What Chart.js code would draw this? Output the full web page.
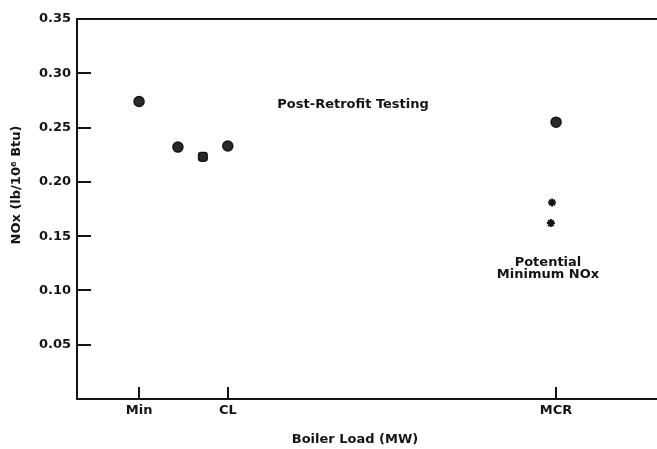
<!DOCTYPE html>
<html>
<head>
<meta charset="utf-8">
<script src="https://cdn.jsdelivr.net/npm/chart.js@4.4.1/dist/chart.umd.min.js"></script>
<style>
  html, body { margin: 0; padding: 0; background: #fff; }
  #wrap { width: 657px; height: 449px; position: relative; }
</style>
</head>
<body>
<div id="wrap"><canvas id="chart"></canvas></div>
<script>
// x is boiler load on an unlabelled relative scale (0-100)
const xTickLabels = ['Min', 'CL', 'MCR'];
const xTickValues = [10.7, 26.0, 82.6];
const yTickValues = [0.05, 0.10, 0.15, 0.20, 0.25, 0.30];

// post-retrofit test points
const postRetrofitX = [10.7, 17.4, 21.7, 26.0, 82.6];
const postRetrofitY = [0.274, 0.232, 0.223, 0.233, 0.255];
const postRetrofitStyles = ['circle', 'circle', 'rectRounded', 'circle', 'circle'];

// potential minimum NOx points
const potentialX = [81.9, 81.7];
const potentialY = [0.181, 0.162];

// annotation texts with their data anchors
const notes = [
  { lines: ['Post-Retrofit Testing'], x: 47.6, y: 0.271 },
  { lines: ['Potential', 'Minimum NOx'], x: 81.2, y: 0.126 }
];

const xTitle = 'Boiler Load (MW)';
const yTitle = 'NOx (lb/10\u2076 Btu)';

const ink = '#141414';
const family = '"DejaVu Sans", Verdana, sans-serif';

// tick marks drawn inward, axis titles (off-centre like the original) and notes
const innerTicks = {
  id: 'innerTicks',
  afterDraw(chart) {
    const { ctx, chartArea, scales } = chart;
    ctx.save();
    ctx.strokeStyle = ink;
    ctx.lineWidth = 2;
    xTickValues.forEach(v => {
      const px = Math.round(scales.x.getPixelForValue(v));
      ctx.beginPath();
      ctx.moveTo(px, chartArea.bottom);
      ctx.lineTo(px, chartArea.bottom - 12);
      ctx.stroke();
    });
    yTickValues.forEach(v => {
      const py = Math.round(scales.y.getPixelForValue(v));
      ctx.beginPath();
      ctx.moveTo(chartArea.left, py);
      ctx.lineTo(chartArea.left + 14, py);
      ctx.stroke();
    });
    ctx.fillStyle = ink;
    ctx.font = 'bold 13px ' + family;
    ctx.textAlign = 'center';
    ctx.textBaseline = 'middle';
    notes.forEach(n => {
      const px = scales.x.getPixelForValue(n.x);
      const py = scales.y.getPixelForValue(n.y);
      n.lines.forEach((line, i) => ctx.fillText(line, px, py + i * 12));
    });
    ctx.fillText(xTitle, chartArea.left + 278, chartArea.bottom + 41);
    ctx.translate(17, chartArea.top + 166);
    ctx.rotate(-Math.PI / 2);
    ctx.fillText(yTitle, 0, 0);
    ctx.restore();
  }
};

new Chart(document.getElementById('chart'), {
  type: 'scatter',
  data: {
    datasets: [
      {
        label: 'Post-Retrofit Testing',
        data: postRetrofitX.map((x, i) => ({ x, y: postRetrofitY[i] })),
        pointStyle: postRetrofitStyles,
        pointRadius: 5,
        backgroundColor: '#2a2a2a',
        borderColor: ink,
        borderWidth: 1.5
      },
      {
        label: 'Potential Minimum NOx',
        data: potentialX.map((x, i) => ({ x, y: potentialY[i] })),
        pointStyle: 'star',
        pointRadius: 4,
        borderColor: ink,
        borderWidth: 2
      }
    ]
  },
  options: {
    responsive: true,
    maintainAspectRatio: false,
    animation: false,
    layout: { autoPadding: false, padding: { top: 19, right: 0, left: 0, bottom: 0 } },
    plugins: {
      legend: { display: false },
      tooltip: { enabled: false }
    },
    scales: {
      x: {
        type: 'linear',
        min: 0,
        max: 100,
        afterBuildTicks: s => { s.ticks = xTickValues.map(v => ({ value: v })); },
        afterFit: s => { s.height = 50; },
        grid: { display: false, drawTicks: false },
        border: { display: true, color: ink, width: 2 },
        ticks: {
          padding: 4,
          color: ink,
          font: { family, size: 13, weight: 'bold' },
          callback: (v) => xTickLabels[xTickValues.indexOf(v)] || ''
        }
      },
      xTop: {
        type: 'linear',
        position: 'top',
        min: 0,
        max: 1,
        afterFit: s => { s.height = 0; },
        grid: { display: false, drawTicks: false },
        border: { display: true, color: ink, width: 2 },
        ticks: { display: false }
      },
      y: {
        min: 0,
        max: 0.35,
        afterBuildTicks: s => { s.ticks = [0, ...yTickValues, 0.35].map(v => ({ value: v })); },
        afterFit: s => { s.width = 77; },
        grid: { display: false, drawTicks: false },
        border: { display: true, color: ink, width: 2 },
        ticks: {
          padding: 6,
          color: ink,
          font: { family, size: 13, weight: 'bold' },
          callback: v => v === 0 ? '' : v.toFixed(2)
        }
      }
    }
  },
  plugins: [innerTicks]
});
</script>
</body>
</html>
